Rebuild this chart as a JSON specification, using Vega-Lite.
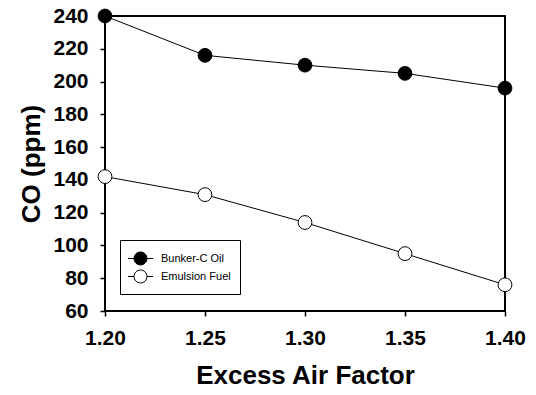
{
  "$schema": "https://vega.github.io/schema/vega-lite/v6.json",
  "autosize": "none",
  "width": 400,
  "height": 295,
  "padding": {"left": 105, "top": 16, "right": 31, "bottom": 84},
  "background": "white",
  "config": {
    "font": "Liberation Sans",
    "view": {"stroke": "black", "strokeWidth": 2},
    "axis": {
      "domain": false,
      "grid": false,
      "ticks": true,
      "tickColor": "black",
      "tickWidth": 1.5,
      "tickSize": 5,
      "labelFont": "Liberation Sans",
      "labelFontWeight": "bold",
      "labelFontSize": 21,
      "labelColor": "black",
      "labelFlush": false,
      "labelOverlap": false,
      "titleFont": "Liberation Sans",
      "titleFontWeight": "bold",
      "titleColor": "black"
    }
  },
  "data": {
    "values": [
      {"x": 1.20, "co": 240, "fuel": "Bunker-C Oil"},
      {"x": 1.25, "co": 216, "fuel": "Bunker-C Oil"},
      {"x": 1.30, "co": 210, "fuel": "Bunker-C Oil"},
      {"x": 1.35, "co": 205, "fuel": "Bunker-C Oil"},
      {"x": 1.40, "co": 196, "fuel": "Bunker-C Oil"},
      {"x": 1.20, "co": 142, "fuel": "Emulsion Fuel"},
      {"x": 1.25, "co": 131, "fuel": "Emulsion Fuel"},
      {"x": 1.30, "co": 114, "fuel": "Emulsion Fuel"},
      {"x": 1.35, "co": 95, "fuel": "Emulsion Fuel"},
      {"x": 1.40, "co": 76, "fuel": "Emulsion Fuel"}
    ]
  },
  "encoding": {
    "x": {
      "field": "x", "type": "quantitative",
      "scale": {"domain": [1.2, 1.4], "nice": false, "zero": false},
      "axis": {"values": [1.2, 1.25, 1.3, 1.35, 1.4], "format": ".2f", "title": "Excess Air Factor", "titleFontSize": 26, "labelPadding": 11, "titlePadding": 14}
    },
    "y": {
      "field": "co", "type": "quantitative",
      "scale": {"domain": [60, 240], "nice": false, "zero": false},
      "axis": {"values": [60, 80, 100, 120, 140, 160, 180, 200, 220, 240], "title": "CO (ppm)", "titleFontSize": 26, "labelPadding": 12, "titlePadding": 8}
    }
  },
  "layer": [
    {
      "mark": {"type": "line", "color": "black", "strokeWidth": 1},
      "encoding": {"detail": {"field": "fuel"}}
    },
    {
      "mark": {"type": "point", "filled": true, "size": 190, "stroke": "black", "strokeWidth": 1, "opacity": 1},
      "encoding": {
        "fill": {
          "field": "fuel", "type": "nominal",
          "scale": {"domain": ["Bunker-C Oil", "Emulsion Fuel"], "range": ["black", "white"]},
          "legend": {
            "title": null,
            "orient": "none",
            "legendX": 15,
            "legendY": 224,
            "strokeColor": "black",
            "fillColor": "white",
            "padding": 9,
            "rowPadding": 0,
            "symbolOffset": 2,
            "symbolType": "M-1.39,0L-0.72,0M0.72,0L1.39,0M0.72,0A0.72,0.72,0,1,1,-0.72,0A0.72,0.72,0,1,1,0.72,0Z",
            "symbolSize": 324,
            "symbolStrokeColor": "black",
            "symbolStrokeWidth": 1,
            "labelFont": "Liberation Sans",
            "labelFontSize": 11,
            "labelColor": "black",
            "labelOffset": 11,
            "encode": {
              "symbols": {
                "update": {
                  "size": {"value": 324},
                  "stroke": {"value": "black"},
                  "strokeWidth": {"value": 1},
                  "opacity": {"value": 1}
                }
              }
            }
          }
        }
      }
    }
  ]
}
